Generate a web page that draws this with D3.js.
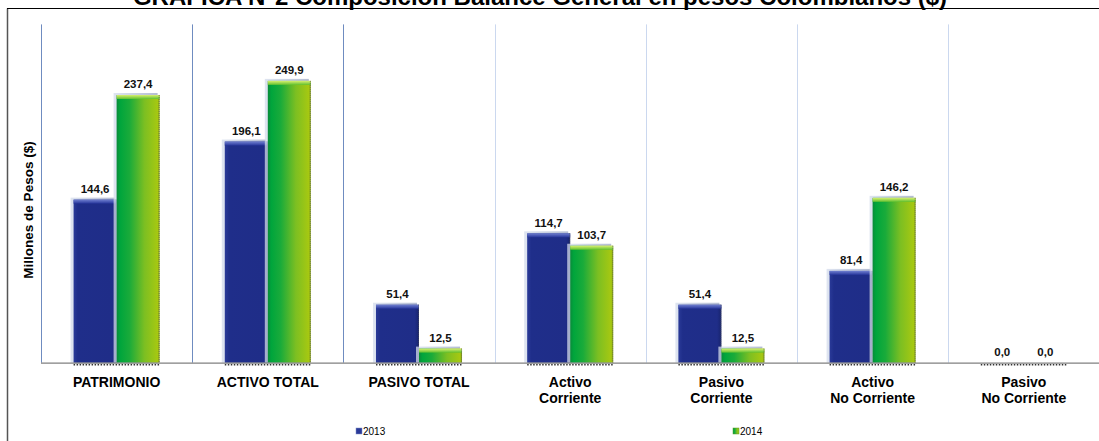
<!DOCTYPE html>
<html>
<head>
<meta charset="utf-8">
<script src="https://cdn.jsdelivr.net/npm/d3@7/dist/d3.min.js"></script>
<style>
  html, body { margin: 0; padding: 0; background: #ffffff; }
  svg { display: block; }
  text { font-family: "Liberation Sans", Arial, sans-serif; }
</style>
</head>
<body>
<svg id="chart" width="1099" height="441"></svg>
<script>
// ---- data ----
const categories = ["PATRIMONIO", "ACTIVO TOTAL", "PASIVO TOTAL", "Activo\nCorriente", "Pasivo\nCorriente", "Activo\nNo Corriente", "Pasivo\nNo Corriente"];
const seriesNames = ["2013", "2014"];
const values2013 = [144.6, 196.1, 51.4, 114.7, 51.4, 81.4, 0.0];
const values2014 = [237.4, 249.9, 12.5, 103.7, 12.5, 146.2, 0.0];
const yDomain = [0, 300];
const titleText = "GRAFICA N°2 Composición Balance General en pesos Colombianos ($)";
const yTitle = "Millones de Pesos ($)";

const rows = categories.map((c, i) => ({ cat: c, vals: [values2013[i], values2014[i]] }));

const svg = d3.select("#chart");
const W = 1099, H = 441;
const plot = { left: 41, right: 1099.4, top: 24.4, bottom: 362.7 };

// gradients
const defs = svg.append("defs");
const gBlue = defs.append("linearGradient").attr("id", "gBlue").attr("x1", 0).attr("x2", 1).attr("y1", 0).attr("y2", 0);
gBlue.append("stop").attr("offset", "0%").attr("stop-color", "#2a3a98");
gBlue.append("stop").attr("offset", "10%").attr("stop-color", "#1f2e8a");
gBlue.append("stop").attr("offset", "90%").attr("stop-color", "#1f2d88");
gBlue.append("stop").attr("offset", "100%").attr("stop-color", "#18246e");
const gGreen = defs.append("linearGradient").attr("id", "gGreen").attr("x1", 0).attr("x2", 1).attr("y1", 0).attr("y2", 0);
gGreen.append("stop").attr("offset", "0%").attr("stop-color", "#0a8a3a");
gGreen.append("stop").attr("offset", "8%").attr("stop-color", "#00a53c");
gGreen.append("stop").attr("offset", "30%").attr("stop-color", "#1aab3a");
gGreen.append("stop").attr("offset", "65%").attr("stop-color", "#7cbf22");
gGreen.append("stop").attr("offset", "95%").attr("stop-color", "#a6c812");
gGreen.append("stop").attr("offset", "100%").attr("stop-color", "#8aa810");
const gBlueTop = defs.append("linearGradient").attr("id", "gBlueTop").attr("x1", 0).attr("x2", 0).attr("y1", 0).attr("y2", 1);
gBlueTop.append("stop").attr("offset", "0%").attr("stop-color", "#6f7fd0");
gBlueTop.append("stop").attr("offset", "100%").attr("stop-color", "#26359a");
const gGreenTop = defs.append("linearGradient").attr("id", "gGreenTop").attr("x1", 0).attr("x2", 0).attr("y1", 0).attr("y2", 1);
gGreenTop.append("stop").attr("offset", "0%").attr("stop-color", "#d8f070");
gGreenTop.append("stop").attr("offset", "100%").attr("stop-color", "#60c030");
const gShadow = defs.append("linearGradient").attr("id", "gShadow").attr("x1", 0).attr("x2", 1).attr("y1", 0).attr("y2", 0);
gShadow.append("stop").attr("offset", "0%").attr("stop-color", "#d4dcec");
gShadow.append("stop").attr("offset", "100%").attr("stop-color", "#9aa6c4");

// scales
const x0 = d3.scaleBand().domain(d3.range(categories.length))
  .range([plot.left, plot.right]).paddingInner(0.431).paddingOuter(0.2155);
const x1 = d3.scaleBand().domain(d3.range(seriesNames.length)).range([0, x0.bandwidth()]);
const y = d3.scaleLinear().domain(yDomain).range([plot.bottom, plot.top]);
const step = x0.step();
const fmt = v => d3.format(".1f")(v).replace(".", ",");

// frame
svg.append("line").attr("x1", 7.5).attr("x2", 7.5).attr("y1", 8.5).attr("y2", H)
  .attr("stroke", "#555").attr("stroke-width", 1.5);
svg.append("line").attr("x1", 7).attr("x2", W).attr("y1", 8.5).attr("y2", 8.5)
  .attr("stroke", "#000").attr("stroke-width", 1);

// title
svg.append("text").attr("x", 540).attr("y", 4.5).attr("text-anchor", "middle")
  .attr("font-size", 24).attr("font-weight", "bold").attr("fill", "#000").text(titleText);

// category separators
const seps = d3.range(categories.length).map(i => x0(i) - x0.paddingOuter() * step);
svg.append("g").selectAll("line").data(seps).join("line")
  .attr("x1", d => Math.round(d) + 0.5).attr("x2", d => Math.round(d) + 0.5)
  .attr("y1", y(yDomain[1])).attr("y2", plot.bottom)
  .attr("stroke", (d, i) => i < 3 ? "#6f8cc0" : "#cbd8ef").attr("stroke-width", 1);

// bars
const groups = svg.append("g").selectAll("g").data(rows).join("g")
  .attr("transform", (d, i) => `translate(${x0(i)},0)`);

groups.each(function (d) {
  const g = d3.select(this);
  d.vals.forEach((v, s) => {
    if (v <= 0) return;
    const bx = x1(s), bw = x1.bandwidth();
    const top = y(v), h = plot.bottom - top;
    // 3D shadow rim (left / top)
    g.append("rect").attr("x", bx - 3).attr("y", top - 2).attr("width", bw + 1).attr("height", h + 2)
      .attr("fill", "url(#gShadow)").attr("opacity", 0.75);
    // main bar
    g.append("rect").attr("x", bx).attr("y", top).attr("width", bw).attr("height", h)
      .attr("fill", s === 0 ? "url(#gBlue)" : "url(#gGreen)");
    // top bevel
    g.append("rect").attr("x", bx).attr("y", top).attr("width", bw).attr("height", Math.min(4, h))
      .attr("fill", s === 0 ? "url(#gBlueTop)" : "url(#gGreenTop)");
    // right edge
    g.append("line").attr("x1", bx + bw - 0.5).attr("x2", bx + bw - 0.5).attr("y1", top).attr("y2", plot.bottom)
      .attr("stroke", "#555").attr("stroke-width", 1).attr("stroke-dasharray", "1,1").attr("opacity", 0.7);
  });
  // dotted shadow under the group
  g.append("line").attr("x1", 0).attr("x2", x0.bandwidth()).attr("y1", plot.bottom + 2).attr("y2", plot.bottom + 2)
    .attr("stroke", "#333").attr("stroke-width", 1.5).attr("stroke-dasharray", "1.5,1.5");
});

// value labels
groups.selectAll("text.val").data(d => d.vals).join("text").attr("class", "val")
  .attr("x", (v, s) => x1(s) + x1.bandwidth() / 2)
  .attr("y", v => y(v) - 6.8)
  .attr("text-anchor", "middle").attr("font-size", 11.5).attr("font-weight", "bold").attr("fill", "#111")
  .text(v => fmt(v));

// axes lines
svg.append("line").attr("x1", plot.left).attr("x2", W).attr("y1", plot.bottom + 0.5).attr("y2", plot.bottom + 0.5)
  .attr("stroke", "#808080").attr("stroke-width", 1.2);

// x labels via axis
const xAxis = d3.axisBottom(x0).tickSize(0).tickFormat(() => "");
const ax = svg.append("g").attr("transform", `translate(0,${plot.bottom})`).call(xAxis);
ax.select(".domain").remove();
ax.selectAll(".tick").each(function (i) {
  const lines = categories[i].split("\n");
  const t = d3.select(this).append("text").attr("text-anchor", "middle")
    .attr("font-size", 14).attr("font-weight", "bold").attr("fill", "#000");
  lines.forEach((ln, k) => {
    t.append("tspan").attr("x", 0).attr("y", 24.3 + k * 16.5).text(ln);
  });
});

// y title
svg.append("text").attr("transform", `translate(33,210) rotate(-90)`).attr("text-anchor", "middle")
  .attr("font-size", 13.5).attr("font-weight", "bold").attr("fill", "#000").text(yTitle);

// legend
const legendX = [356, 733];
const lg = svg.append("g").selectAll("g").data(seriesNames).join("g")
  .attr("transform", (d, i) => `translate(${legendX[i]},428)`);
lg.append("rect").attr("width", 6).attr("height", 6)
  .attr("fill", (d, i) => i === 0 ? "#2a3a98" : "url(#gGreen)")
  .attr("stroke", (d, i) => i === 0 ? "#8090c8" : "#5a9a20").attr("stroke-width", 0.5);
lg.append("text").attr("x", 7).attr("y", 6.5).attr("font-size", 10).attr("fill", "#000").text(d => d);
</script>
</body>
</html>
